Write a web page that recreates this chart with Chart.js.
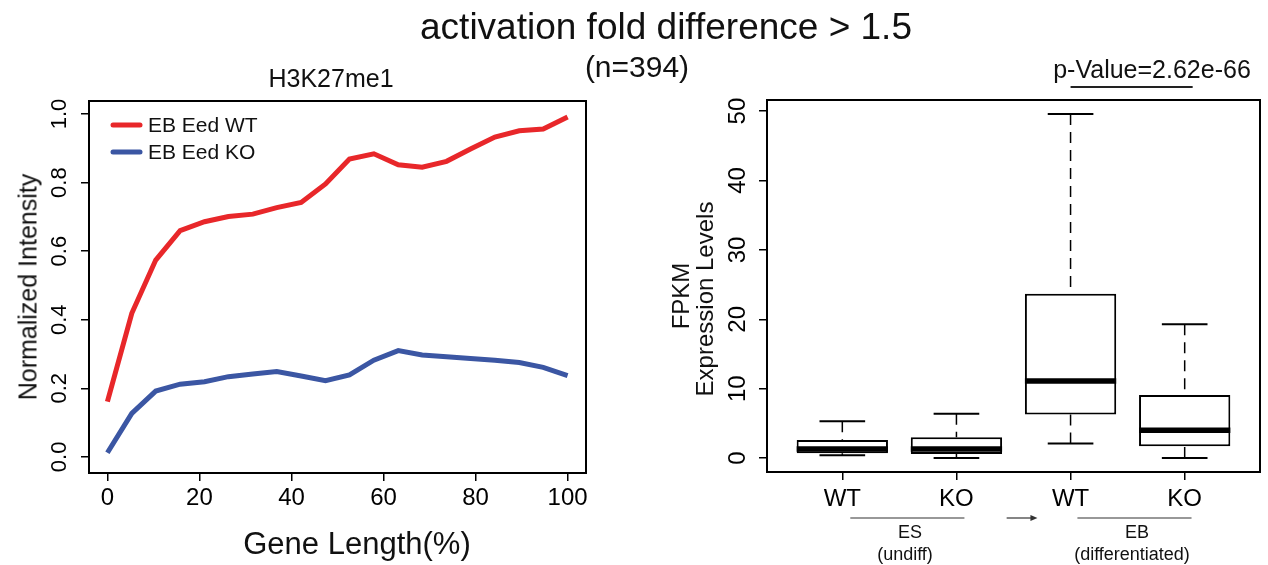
<!DOCTYPE html>
<html>
<head>
<meta charset="utf-8">
<script src="https://cdn.jsdelivr.net/npm/chart.js@4.4.1/dist/chart.umd.min.js"></script>
<style>
  html, body { margin: 0; padding: 0; background: #fff; }
  #page {
    position: relative; width: 1268px; height: 565px; overflow: hidden;
    font-family: "Liberation Sans", Arial, Helvetica, sans-serif; color: #111;
  }
  .panel { position: absolute; top: 0; width: 634px; height: 565px; }
  .txt { position: absolute; white-space: nowrap; line-height: 1; transform: translate(-50%, -50%); }
  .rot { transform: translate(-50%, -50%) rotate(-90deg); }
</style>
</head>
<body>
<div id="page">
  <div class="panel" style="left:0"><canvas id="profile" width="634" height="565"></canvas></div>
  <div class="panel" style="left:634px"><canvas id="boxes" width="634" height="565"></canvas></div>

  <div class="txt" style="left:666px; top:26px; font-size:37px">activation fold difference &gt; 1.5</div>
  <div class="txt" style="left:637px; top:67px; font-size:30px">(n=394)</div>
  <div class="txt" style="left:331px; top:78px; font-size:25px">H3K27me1</div>
  <div class="txt rot" style="left:28px; top:287px; font-size:25px">Normalized Intensity</div>
  <div class="txt" style="left:357px; top:543px; font-size:31px">Gene Length(%)</div>

  <div class="txt" style="left:1152px; top:69px; font-size:25px">p-Value=2.62e-66</div>
  <div class="txt rot" style="left:681px; top:296px; font-size:24px">FPKM</div>
  <div class="txt rot" style="left:705px; top:299px; font-size:24px">Expression Levels</div>
  <div class="txt" style="left:910px; top:532px; font-size:18px">ES</div>
  <div class="txt" style="left:905px; top:554px; font-size:18px">(undiff)</div>
  <div class="txt" style="left:1137px; top:532px; font-size:18px">EB</div>
  <div class="txt" style="left:1132px; top:554px; font-size:18px">(differentiated)</div>
</div>

<script>
const FONT = '"Liberation Sans", Arial, Helvetica, sans-serif'

// left panel: H3K27me1 profile along the gene body
const geneLength = [0, 5.3, 10.5, 15.8, 21.1, 26.3, 31.6, 36.8, 42.1, 47.4,
  52.6, 57.9, 63.2, 68.4, 73.7, 78.9, 84.2, 89.5, 94.7, 100]
const wtIntensity = [0.161, 0.419, 0.574, 0.660, 0.686, 0.701, 0.708, 0.727, 0.742, 0.796,
  0.869, 0.884, 0.852, 0.845, 0.862, 0.898, 0.933, 0.951, 0.956, 0.991]
const koIntensity = [0.012, 0.127, 0.192, 0.212, 0.219, 0.234, 0.242, 0.249, 0.236, 0.222,
  0.239, 0.282, 0.310, 0.297, 0.292, 0.287, 0.282, 0.275, 0.261, 0.237]
const profileXTicks = [0, 20, 40, 60, 80, 100]
const profileYTicks = [0, 0.2, 0.4, 0.6, 0.8, 1.0]

// right panel: FPKM box plots (ES WT, ES KO, EB WT, EB KO)
const groupLabels = ['WT', 'KO', 'WT', 'KO']
const groupPos = [1, 2, 3, 4]
const whiskerLow = [0.4, 0.0, 2.1, 0.0]
const quartile1 = [0.7, 0.6, 6.3, 1.7]
const medians = [1.3, 1.3, 11.1, 4.0]
const quartile3 = [2.6, 3.0, 23.7, 9.1]
const whiskerHigh = [5.3, 6.4, 49.6, 19.3]
const fpkmTicks = [0, 10, 20, 30, 40, 50]

const BOX_HALF = 0.4

// closed box around the plotting region, like R's bty="o"
const frame = {
  id: 'frame',
  afterDraw(chart) {
    const { ctx, chartArea: a } = chart
    ctx.save()
    ctx.strokeStyle = '#000'
    ctx.lineWidth = 2
    ctx.strokeRect(a.left, a.top, a.right - a.left, a.bottom - a.top)
    ctx.restore()
  },
}

// y tick labels written parallel to the axis
const sideTicks = {
  id: 'sideTicks',
  afterDraw(chart, args, opts) {
    const { ctx, chartArea } = chart
    const y = chart.scales.y
    ctx.save()
    ctx.fillStyle = '#000'
    ctx.font = opts.size + 'px ' + FONT
    ctx.textAlign = 'center'
    ctx.textBaseline = 'middle'
    y.ticks.forEach((t) => {
      ctx.save()
      ctx.translate(chartArea.left - opts.offset, y.getPixelForValue(t.value))
      ctx.rotate(-Math.PI / 2)
      ctx.fillText(opts.format(t.value), 0, 0)
      ctx.restore()
    })
    ctx.restore()
  },
}

// legend placed inside the top left corner of the plot
const innerLegend = {
  id: 'innerLegend',
  afterDraw(chart) {
    const { ctx, chartArea } = chart
    ctx.save()
    ctx.font = '21px ' + FONT
    ctx.textBaseline = 'middle'
    chart.data.datasets.forEach((ds, i) => {
      const x = chartArea.left + 24
      const y = chartArea.top + 24 + i * 27
      ctx.strokeStyle = ds.borderColor
      ctx.lineWidth = 5
      ctx.lineCap = 'round'
      ctx.beginPath()
      ctx.moveTo(x, y)
      ctx.lineTo(x + 27, y)
      ctx.stroke()
      ctx.fillStyle = '#111'
      ctx.fillText(ds.label, x + 35, y + 1)
    })
    ctx.restore()
  },
}

// medians, whiskers and staples drawn over the floating bars
const boxParts = {
  id: 'boxParts',
  afterDatasetsDraw(chart) {
    const { ctx } = chart
    const x = chart.scales.x
    const y = chart.scales.y
    ctx.save()
    ctx.strokeStyle = '#000'
    groupPos.forEach((p, i) => {
      const cx = x.getPixelForValue(p)
      const half = x.getPixelForValue(p + BOX_HALF) - cx
      ctx.lineWidth = 1.5
      ctx.setLineDash([11, 7])
      ctx.beginPath()
      ctx.moveTo(cx, y.getPixelForValue(whiskerHigh[i]))
      ctx.lineTo(cx, y.getPixelForValue(quartile3[i]))
      ctx.moveTo(cx, y.getPixelForValue(whiskerLow[i]))
      ctx.lineTo(cx, y.getPixelForValue(quartile1[i]))
      ctx.stroke()
      ctx.setLineDash([])
      ctx.lineWidth = 2
      ctx.beginPath()
      ;[whiskerLow[i], whiskerHigh[i]].forEach((v) => {
        ctx.moveTo(cx - half / 2, y.getPixelForValue(v))
        ctx.lineTo(cx + half / 2, y.getPixelForValue(v))
      })
      ctx.stroke()
      ctx.lineWidth = 5.5
      ctx.beginPath()
      ctx.moveTo(cx - half, y.getPixelForValue(medians[i]))
      ctx.lineTo(cx + half, y.getPixelForValue(medians[i]))
      ctx.stroke()
    })
    ctx.restore()
  },
}

// group brackets under the x labels, the ES -> EB arrow and the p-value bar
const groupMarks = {
  id: 'groupMarks',
  afterDraw(chart) {
    const { ctx, chartArea } = chart
    const x = chart.scales.x
    const line = (a, b, py) => {
      ctx.beginPath()
      ctx.moveTo(x.getPixelForValue(a), py)
      ctx.lineTo(x.getPixelForValue(b), py)
      ctx.stroke()
    }
    ctx.save()
    ctx.strokeStyle = '#333'
    ctx.lineWidth = 1.2
    line(1.07, 2.07, 518)
    line(3.06, 4.06, 518)
    line(2.44, 2.68, 518)
    const tip = x.getPixelForValue(2.71)
    ctx.fillStyle = '#333'
    ctx.beginPath()
    ctx.moveTo(tip, 518)
    ctx.lineTo(tip - 7, 515)
    ctx.lineTo(tip - 7, 521)
    ctx.closePath()
    ctx.fill()
    ctx.strokeStyle = '#222'
    ctx.lineWidth = 2
    line(3, 4.07, chartArea.top - 13)
    ctx.restore()
  },
}

const axisGrid = { drawOnChartArea: false, drawTicks: true, tickLength: 8, color: '#000', lineWidth: 1.5, offset: false }

new Chart(document.getElementById('profile'), {
  type: 'line',
  data: {
    datasets: [
      {
        label: 'EB Eed WT',
        data: geneLength.map((g, i) => ({ x: g, y: wtIntensity[i] })),
        borderColor: '#e8272a',
        borderWidth: 5,
        pointRadius: 0,
        tension: 0,
      },
      {
        label: 'EB Eed KO',
        data: geneLength.map((g, i) => ({ x: g, y: koIntensity[i] })),
        borderColor: '#3b56a3',
        borderWidth: 5,
        pointRadius: 0,
        tension: 0,
      },
    ],
  },
  options: {
    responsive: false,
    animation: false,
    layout: { padding: { left: 0, top: 101, right: 48, bottom: 0 } },
    scales: {
      x: {
        type: 'linear',
        min: -4,
        max: 104,
        afterBuildTicks: (s) => { s.ticks = profileXTicks.map((v) => ({ value: v })) },
        afterFit: (s) => { s.height = 92 },
        grid: axisGrid,
        border: { display: false },
        ticks: { color: '#000', font: { size: 24, family: FONT }, padding: 3, maxRotation: 0 },
      },
      y: {
        type: 'linear',
        min: -0.047,
        max: 1.038,
        afterBuildTicks: (s) => { s.ticks = profileYTicks.map((v) => ({ value: v })) },
        afterFit: (s) => { s.width = 89 },
        grid: axisGrid,
        border: { display: false },
        ticks: { display: false },
      },
    },
    plugins: {
      legend: { display: false },
      tooltip: { enabled: false },
      sideTicks: { offset: 29, size: 22, format: (v) => v.toFixed(1) },
    },
  },
  plugins: [frame, sideTicks, innerLegend],
})

new Chart(document.getElementById('boxes'), {
  type: 'bar',
  data: {
    datasets: [
      {
        data: groupPos.map((p, i) => ({ x: p, y: [quartile1[i], quartile3[i]] })),
        backgroundColor: '#fff',
        borderColor: '#000',
        borderWidth: 2,
        borderSkipped: false,
        barPercentage: 1,
        categoryPercentage: 2 * BOX_HALF,
      },
    ],
  },
  options: {
    responsive: false,
    animation: false,
    layout: { padding: { left: 0, top: 100, right: 8, bottom: 0 } },
    scales: {
      x: {
        type: 'linear',
        offset: false,
        min: 0.34,
        max: 4.66,
        afterBuildTicks: (s) => { s.ticks = groupPos.map((v) => ({ value: v })) },
        afterFit: (s) => { s.height = 93 },
        grid: axisGrid,
        border: { display: false },
        ticks: {
          color: '#000',
          font: { size: 24, family: FONT },
          padding: 5,
          maxRotation: 0,
          callback: (v) => groupLabels[groupPos.indexOf(v)],
        },
      },
      y: {
        type: 'linear',
        min: -2,
        max: 51.6,
        afterBuildTicks: (s) => { s.ticks = fpkmTicks.map((v) => ({ value: v })) },
        afterFit: (s) => { s.width = 133 },
        grid: axisGrid,
        border: { display: false },
        ticks: { display: false },
      },
    },
    plugins: {
      legend: { display: false },
      tooltip: { enabled: false },
      sideTicks: { offset: 29, size: 24, format: (v) => String(v) },
    },
  },
  plugins: [frame, sideTicks, boxParts, groupMarks],
})
</script>
</body>
</html>
